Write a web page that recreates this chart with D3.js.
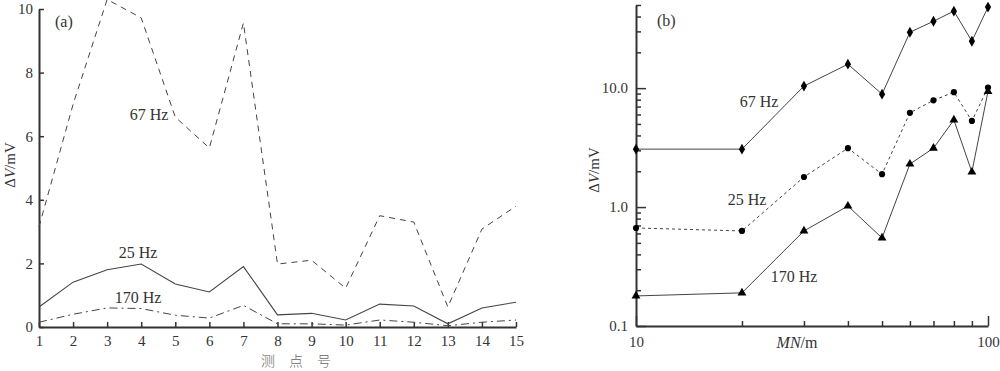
<!DOCTYPE html>
<html>
<head>
<meta charset="utf-8">
<script src="https://cdn.jsdelivr.net/npm/d3@7"></script>
<style>
  body { margin: 0; background: #fff; }
  svg { display: block; font-family: "Liberation Serif", "DejaVu Serif", serif; }
</style>
</head>
<body>
<svg id="chart" width="1000" height="371"></svg>
<script>
// (a) 测点号 1..15
const points = d3.range(1, 16)
const a67 = [3.15, 7.0, 10.3, 9.72, 6.6, 5.63, 9.56, 1.98, 2.1, 1.22, 3.5, 3.3, 0.63, 3.08, 3.8]
const a25 = [0.63, 1.41, 1.8, 1.98, 1.35, 1.1, 1.9, 0.38, 0.43, 0.22, 0.72, 0.66, 0.1, 0.6, 0.78]
const a170 = [0.15, 0.4, 0.6, 0.58, 0.37, 0.28, 0.68, 0.1, 0.1, 0.06, 0.22, 0.15, 0.04, 0.15, 0.22]
const aYTicks = [0, 2, 4, 6, 8, 10]

// (b) MN 10..100
const mn = [10, 20, 30, 40, 50, 60, 70, 80, 90, 100]
const b67 = [3.07, 3.07, 10.4, 15.9, 8.9, 29.5, 36.5, 44.4, 24.8, 48]
const b25 = [0.667, 0.63, 1.79, 3.13, 1.89, 6.2, 7.9, 9.25, 5.3, 10.1]
const b170 = [0.179, 0.19, 0.63, 1.02, 0.55, 2.3, 3.13, 5.4, 1.97, 9.4]
const bYTicks = [0.1, 0.2, 0.3, 0.4, 0.5, 0.6, 0.7, 0.8, 0.9, 1, 2, 3, 4, 5, 6, 7, 8, 9, 10, 20, 30, 40, 50]
const bYLabels = [0.1, 1, 10]
const bXLabels = [10, 100]

const ink = '#333'
const svg = d3.select('#chart')

// axis look shared by both panels
function styleAxis(g) {
    g.attr('font-family', null).attr('font-size', null)
    g.select('.domain').attr('stroke', ink).attr('stroke-width', 2)
    g.selectAll('.tick line').attr('stroke', ink).attr('stroke-width', 1.5)
    g.selectAll('text').attr('fill', ink).attr('font-size', 15)
}

// ---------- panel (a) ----------
const xa = d3.scaleLinear().domain([1, 15]).range([39, 516])
const ya = d3.scaleLinear().domain([0, 10]).range([327, 9])

const ga = svg.append('g')

ga.append('g')
    .attr('transform', 'translate(0,327)')
    .call(d3.axisBottom(xa).tickValues(points).tickSizeInner(-5).tickSizeOuter(0).tickPadding(8))
    .call(styleAxis)

ga.append('g')
    .attr('transform', 'translate(39,0)')
    .call(d3.axisLeft(ya).tickValues(aYTicks).tickSizeInner(-5).tickSizeOuter(0).tickPadding(6))
    .call(styleAxis)

const lineA = d3.line().x((d, i) => xa(points[i])).y(d => ya(d))

ga.append('path').datum(a67).attr('d', lineA)
    .attr('fill', 'none').attr('stroke', '#444').attr('stroke-width', 1).attr('stroke-dasharray', '6,5')
ga.append('path').datum(a25).attr('d', lineA)
    .attr('fill', 'none').attr('stroke', '#444').attr('stroke-width', 1.1)
ga.append('path').datum(a170).attr('d', lineA)
    .attr('fill', 'none').attr('stroke', '#444').attr('stroke-width', 1).attr('stroke-dasharray', '8,4,2,4')

ga.append('text').text('(a)').attr('x', 55).attr('y', 27).attr('font-size', 16).attr('fill', ink)
ga.append('text').text('67 Hz').attr('x', 149).attr('y', 120).attr('text-anchor', 'middle').attr('font-size', 16).attr('fill', ink)
ga.append('text').text('25 Hz').attr('x', 138).attr('y', 258).attr('text-anchor', 'middle').attr('font-size', 16).attr('fill', ink)
ga.append('text').text('170 Hz').attr('x', 138).attr('y', 303).attr('text-anchor', 'middle').attr('font-size', 16).attr('fill', ink)

ga.append('text')
    .attr('transform', 'translate(15,165) rotate(-90)')
    .attr('text-anchor', 'middle').attr('font-size', 15).attr('fill', ink)
    .call(t => {
        t.append('tspan').text('Δ')
        t.append('tspan').text('V').attr('font-style', 'italic')
        t.append('tspan').text('/mV')
    })

ga.append('text').text('测　点　号')
    .attr('x', 296).attr('y', 366).attr('text-anchor', 'middle')
    .attr('font-family', '"Noto Sans CJK SC", sans-serif').attr('font-weight', 300)
    .attr('font-size', 14).attr('fill', '#666')

// ---------- panel (b) ----------
const xb = d3.scaleLog().domain([10, 100]).range([636, 988])
const yb = d3.scaleLog().domain([0.1, 50]).range([326, 5])

const gb = svg.append('g')

gb.append('g')
    .attr('transform', 'translate(0,326)')
    .call(d3.axisBottom(xb).tickValues(mn).tickSizeInner(-5).tickSizeOuter(0).tickPadding(10)
        .tickFormat(d => bXLabels.includes(d) ? d : ''))
    .call(styleAxis)
    .call(g => g.selectAll('.tick line').attr('y2', d => bXLabels.includes(d) ? -10 : -5))

gb.append('g')
    .attr('transform', 'translate(636,0)')
    .call(d3.axisLeft(yb).tickValues(bYTicks).tickSizeInner(-5).tickSizeOuter(0).tickPadding(8)
        .tickFormat(d => bYLabels.includes(d) ? d3.format('.1f')(d) : ''))
    .call(styleAxis)
    .call(g => g.selectAll('.tick line').attr('x2', d => bYLabels.includes(d) ? 10 : 5))

const lineB = d3.line().x((d, i) => xb(mn[i])).y(d => yb(d))

const seriesB = [
    {vals: b67, sym: d3.symbolDiamond, size: 34, dash: null},
    {vals: b25, sym: d3.symbolCircle, size: 30, dash: '3,3'},
    {vals: b170, sym: d3.symbolTriangle, size: 34, dash: null}
]

seriesB.forEach(s => {
    gb.append('path').datum(s.vals).attr('d', lineB)
        .attr('fill', 'none').attr('stroke', '#444').attr('stroke-width', 1)
        .attr('stroke-dasharray', s.dash)
    gb.selectAll(null).data(s.vals).join('path')
        .attr('d', d3.symbol().type(s.sym).size(s.size))
        .attr('transform', (d, i) => `translate(${xb(mn[i])},${yb(d)})`)
        .attr('fill', '#000')
})

gb.append('text').text('(b)').attr('x', 657).attr('y', 26).attr('font-size', 16).attr('fill', ink)
gb.append('text').text('67 Hz').attr('x', 759).attr('y', 107).attr('text-anchor', 'middle').attr('font-size', 16).attr('fill', ink)
gb.append('text').text('25 Hz').attr('x', 747).attr('y', 205).attr('text-anchor', 'middle').attr('font-size', 16).attr('fill', ink)
gb.append('text').text('170 Hz').attr('x', 794).attr('y', 282).attr('text-anchor', 'middle').attr('font-size', 16).attr('fill', ink)

gb.append('text')
    .attr('transform', 'translate(599,170) rotate(-90)')
    .attr('text-anchor', 'middle').attr('font-size', 15).attr('fill', ink)
    .call(t => {
        t.append('tspan').text('Δ')
        t.append('tspan').text('V').attr('font-style', 'italic')
        t.append('tspan').text('/mV')
    })

gb.append('text')
    .attr('x', 797).attr('y', 348).attr('text-anchor', 'middle').attr('font-size', 16).attr('fill', ink)
    .call(t => {
        t.append('tspan').text('MN').attr('font-style', 'italic')
        t.append('tspan').text('/m')
    })
</script>
</body>
</html>
